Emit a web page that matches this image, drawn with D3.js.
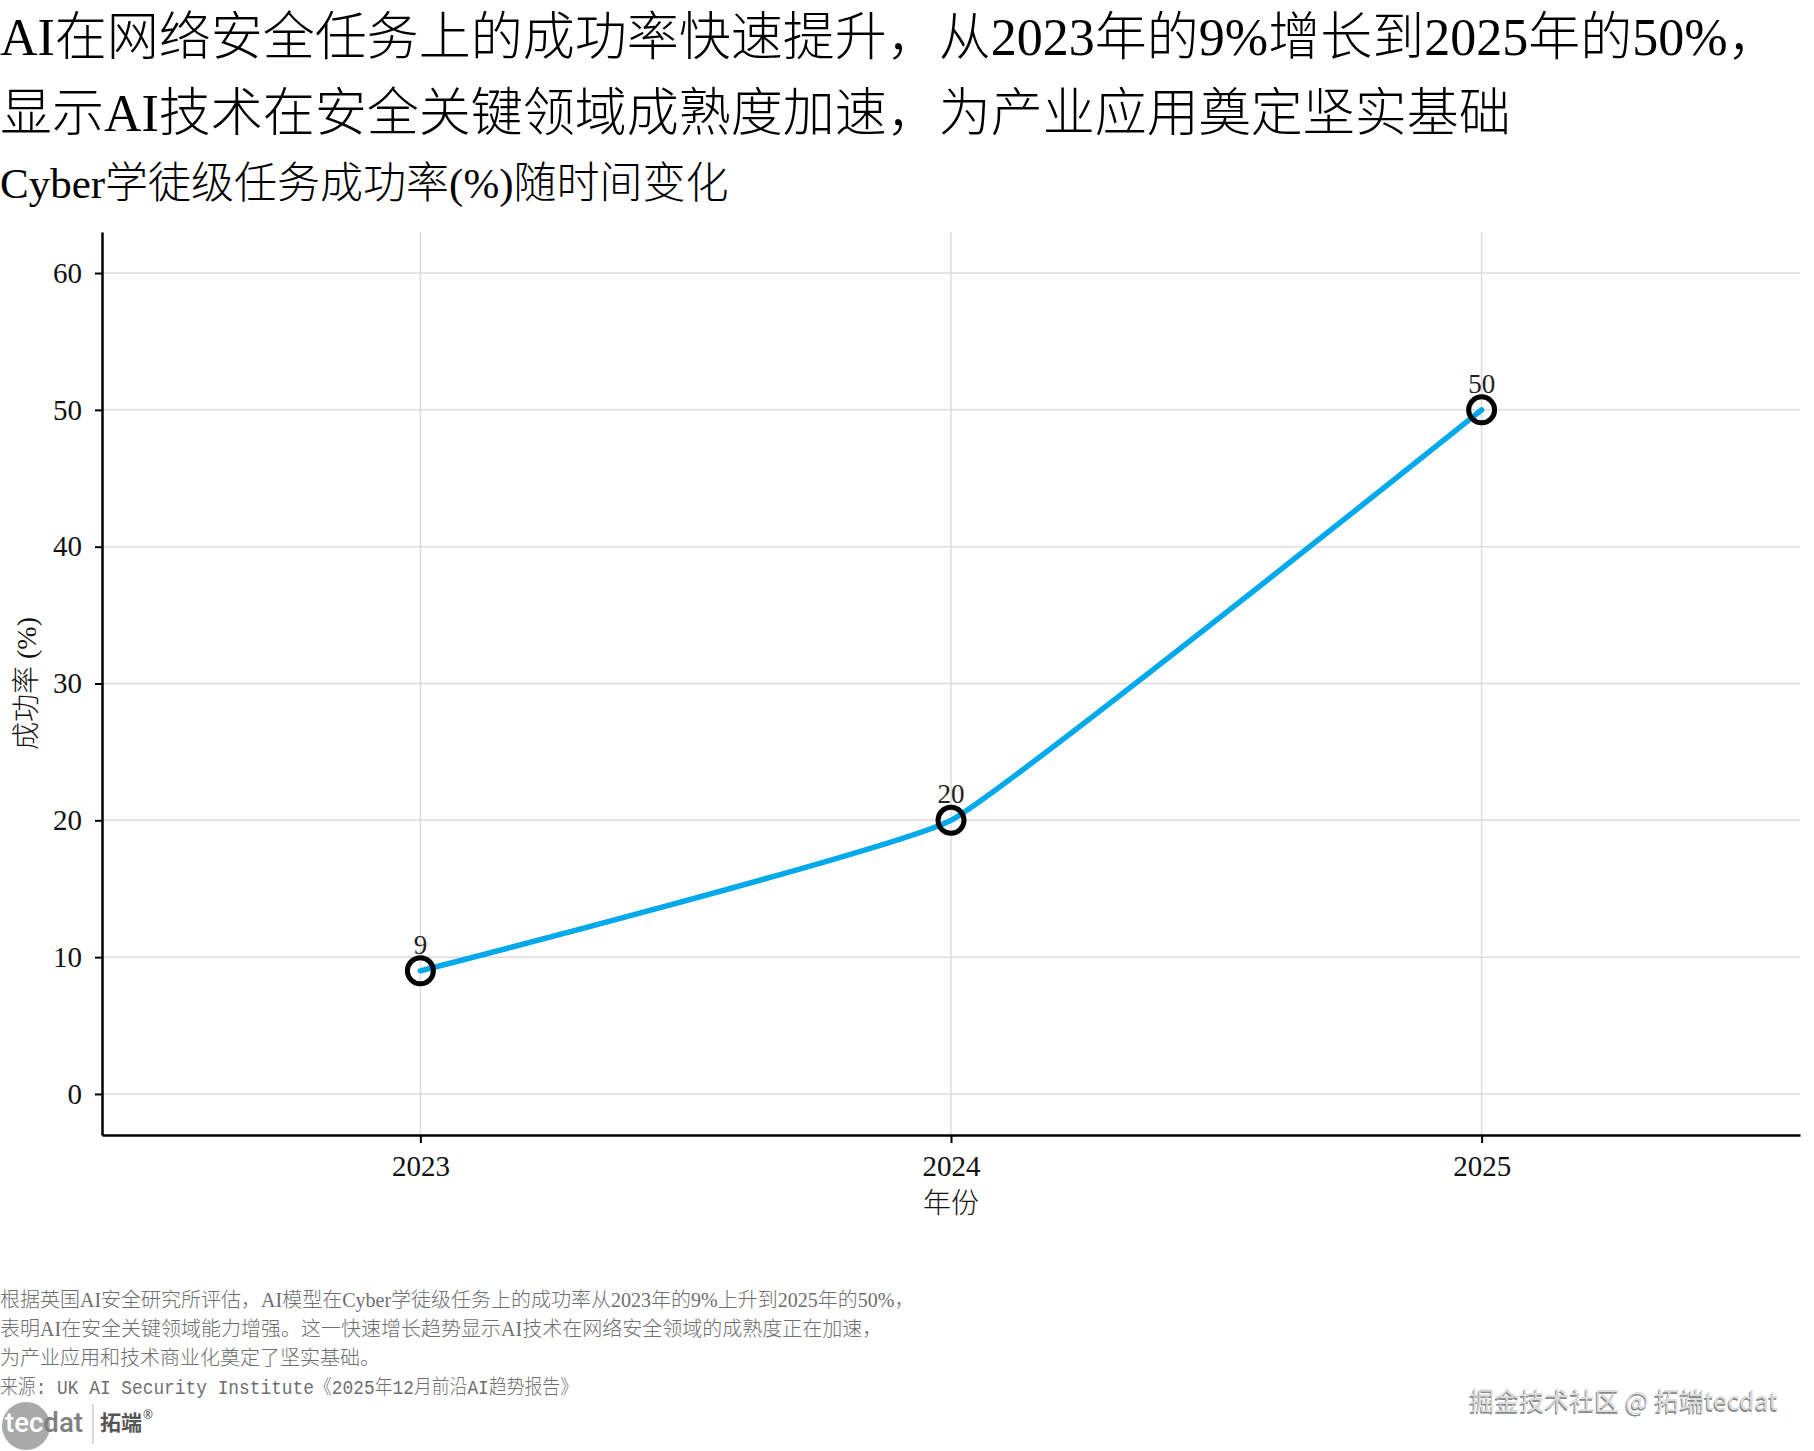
<!DOCTYPE html>
<html lang="zh">
  <head>
    <meta charset="UTF-8" />
    <title>Cyber学徒级任务成功率</title>
    <script src="https://d3js.org/d3.v7.min.js"></script>
    <style>
      body { margin: 0; background: #fff; }
      svg { display: block; }
      text { font-family: "Liberation Serif", "Noto Sans CJK SC", serif; }
      .cjk-light { font-weight: 300; }
    </style>
  </head>
  <body>
    <div id="chart"></div>

    <script>
      // data
      const years = [2023, 2024, 2025];
      const successRate = [9, 20, 50];
      const yTicks = [0, 10, 20, 30, 40, 50, 60];

      const titleLines = [
        "AI在网络安全任务上的成功率快速提升，从2023年的9%增长到2025年的50%，",
        "显示AI技术在安全关键领域成熟度加速，为产业应用奠定坚实基础",
      ];
      const subtitle = "Cyber学徒级任务成功率(%)随时间变化";
      const notes = [
        "根据英国AI安全研究所评估，AI模型在Cyber学徒级任务上的成功率从2023年的9%上升到2025年的50%，",
        "表明AI在安全关键领域能力增强。这一快速增长趋势显示AI技术在网络安全领域的成熟度正在加速，",
        "为产业应用和技术商业化奠定了坚实基础。",
      ];
      const source = "来源: UK AI Security Institute《2025年12月前沿AI趋势报告》";

      const width = 1814;
      const height = 1451;
      const margin = { top: 232, right: 14, bottom: 316, left: 102 };

      const svg = d3
        .select("#chart")
        .append("svg")
        .attr("width", width)
        .attr("height", height);

      // titles
      svg
        .selectAll("text.title")
        .data(titleLines)
        .enter()
        .append("text")
        .attr("class", "title cjk-light")
        .attr("x", 0)
        .attr("y", (d, i) => 55 + i * 76)
        .attr("font-size", 52)
        .attr("fill", "#000")
        .text((d) => d);

      svg
        .append("text")
        .attr("class", "cjk-light")
        .attr("x", 0)
        .attr("y", 198)
        .attr("font-size", 43)
        .attr("fill", "#000")
        .text(subtitle);

      const x = d3
        .scaleLinear()
        .domain([2022.4, 2025.6])
        .range([margin.left, width - margin.right]);

      const y = d3
        .scaleLinear()
        .domain([-3, 63])
        .range([height - margin.bottom, margin.top]);

      // grid
      const grid = svg.append("g").attr("stroke", "#dcdcdc").attr("stroke-width", 1.5);
      grid
        .selectAll("line.h")
        .data(yTicks)
        .enter()
        .append("line")
        .attr("x1", x.range()[0])
        .attr("x2", x.range()[1])
        .attr("y1", (d) => y(d))
        .attr("y2", (d) => y(d));
      grid
        .selectAll("line.v")
        .data(years)
        .enter()
        .append("line")
        .attr("x1", (d) => x(d))
        .attr("x2", (d) => x(d))
        .attr("y1", y.range()[0])
        .attr("y2", y.range()[1]);

      // axes
      const yAxis = svg
        .append("g")
        .attr("transform", `translate(${margin.left},0)`)
        .call(d3.axisLeft(y).tickValues(yTicks).tickSize(7).tickSizeOuter(0).tickPadding(13));

      const xAxis = svg
        .append("g")
        .attr("transform", `translate(0,${height - margin.bottom})`)
        .call(
          d3
            .axisBottom(x)
            .tickValues(years)
            .tickFormat(d3.format("d"))
            .tickSize(8)
            .tickSizeOuter(0)
            .tickPadding(12)
        );

      [yAxis, xAxis].forEach((a) => {
        a.select(".domain").attr("stroke", "#000").attr("stroke-width", 2.5);
        a.selectAll(".tick line").attr("stroke", "#000").attr("stroke-width", 2);
        a.selectAll(".tick text")
          .attr("font-size", 29)
          .attr("fill", "#111")
          .style("font-family", '"Liberation Serif", "Noto Sans CJK SC", serif');
      });

      // axis titles
      svg
        .append("text")
        .attr("class", "cjk-light")
        .attr("x", x(2024))
        .attr("y", 1213)
        .attr("text-anchor", "middle")
        .attr("font-size", 28)
        .attr("fill", "#111")
        .text("年份");

      svg
        .append("text")
        .attr("class", "cjk-light")
        .attr("transform", `translate(26,${(y.range()[0] + y.range()[1]) / 2}) rotate(-90)`)
        .attr("text-anchor", "middle")
        .attr("dominant-baseline", "central")
        .attr("font-size", 28)
        .attr("fill", "#111")
        .text("成功率 (%)");

      // series
      const points = years.map((yr, i) => ({ year: yr, value: successRate[i] }));

      const line = d3
        .line()
        .x((d) => x(d.year))
        .y((d) => y(d.value))
        .curve(d3.curveCardinal.tension(0.7));

      svg
        .append("path")
        .datum(points)
        .attr("fill", "none")
        .attr("stroke", "#00a8ec")
        .attr("stroke-width", 5.5)
        .attr("stroke-linecap", "round")
        .attr("d", line);

      svg
        .selectAll("circle.pt")
        .data(points)
        .enter()
        .append("circle")
        .attr("class", "pt")
        .attr("cx", (d) => x(d.year))
        .attr("cy", (d) => y(d.value))
        .attr("r", 13)
        .attr("fill", "none")
        .attr("stroke", "#000")
        .attr("stroke-width", 5);

      svg
        .selectAll("text.lbl")
        .data(points)
        .enter()
        .append("text")
        .attr("class", "lbl")
        .attr("x", (d) => x(d.year))
        .attr("y", (d) => y(d.value) - 17)
        .attr("text-anchor", "middle")
        .attr("font-size", 27)
        .attr("fill", "#222")
        .text((d) => d.value);

      // notes
      svg
        .selectAll("text.note")
        .data(notes)
        .enter()
        .append("text")
        .attr("class", "note cjk-light")
        .attr("x", 0)
        .attr("y", (d, i) => 1307 + i * 29)
        .attr("font-size", 20)
        .attr("fill", "#6e6e6e")
        .text((d) => d);

      svg
        .append("text")
        .attr("class", "cjk-light")
        .attr("x", 0)
        .attr("y", 1394)
        .attr("font-size", 20)
        .attr("fill", "#6e6e6e")
        .attr("textLength", 578)
        .attr("lengthAdjust", "spacingAndGlyphs")
        .style("font-family", '"Liberation Mono", "Noto Sans CJK SC", monospace')
        .text(source);

      // logo
      const logo = svg.append("g");
      logo.append("circle").attr("cx", 26).attr("cy", 1426).attr("r", 24).attr("fill", "#a9a9a9");
      const logoText = logo
        .append("text")
        .attr("x", 5)
        .attr("y", 1432)
        .attr("font-size", 27)
        .attr("textLength", 78)
        .attr("lengthAdjust", "spacingAndGlyphs")
        .style("font-family", "Roboto, 'Noto Sans', sans-serif")
        .style("font-weight", 500);
      logoText.append("tspan").attr("fill", "#fff").text("tec");
      logoText.append("tspan").attr("fill", "#7f7f7f").text("dat");
      logo
        .append("line")
        .attr("x1", 93)
        .attr("x2", 93)
        .attr("y1", 1404)
        .attr("y2", 1444)
        .attr("stroke", "#cfcfcf")
        .attr("stroke-width", 1.5);
      logo
        .append("text")
        .attr("x", 100)
        .attr("y", 1430)
        .attr("font-size", 21)
        .attr("fill", "#555")
        .style("font-family", "'Noto Sans CJK SC', sans-serif")
        .style("font-weight", 700)
        .text("拓端");
      logo
        .append("text")
        .attr("x", 143)
        .attr("y", 1419)
        .attr("font-size", 12)
        .attr("fill", "#555")
        .style("font-family", "'Noto Sans', sans-serif")
        .text("®");

      // watermark
      const mark = "掘金技术社区 @ 拓端tecdat";
      [
        { dx: -1, dy: 1.5, fill: "#8a8a8a" },
        { dx: 0, dy: 0, fill: "#dadada" },
      ].forEach((s) => {
        svg
          .append("text")
          .attr("x", 1778 + s.dx)
          .attr("y", 1410 + s.dy)
          .attr("text-anchor", "end")
          .attr("font-size", 25)
          .attr("fill", s.fill)
          .style("font-family", "'Noto Sans CJK SC', sans-serif")
          .text(mark);
      });
    </script>
  </body>
</html>
